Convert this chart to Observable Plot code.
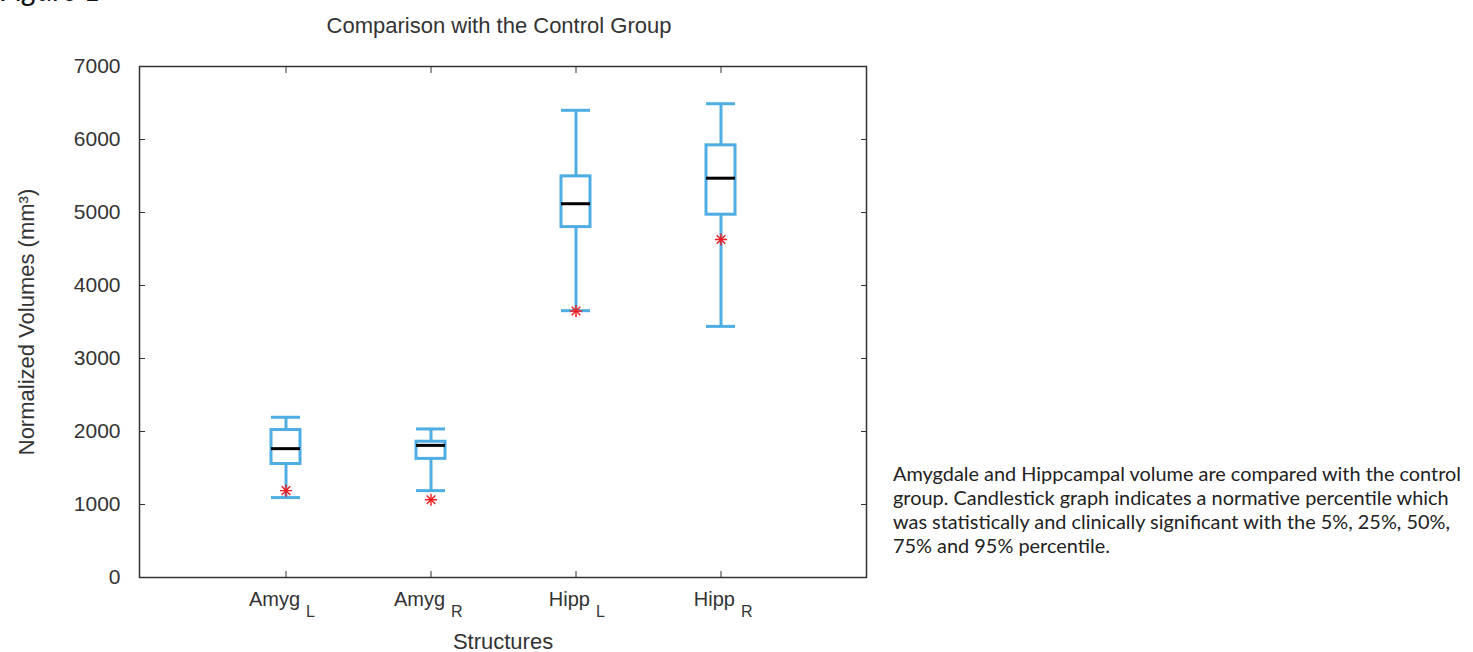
<!DOCTYPE html>
<html>
<head>
<meta charset="utf-8">
<script src="https://cdn.jsdelivr.net/npm/d3@7"></script>
<script src="https://cdn.jsdelivr.net/npm/@observablehq/plot@0.6"></script>
<style>
  html, body { margin: 0; padding: 0; background: #fff; }
  #page { position: relative; width: 1473px; height: 652px; overflow: hidden; background: #fff; }
  #chart { position: absolute; left: 0; top: 0; z-index: 1; }
  #figlabel { position: absolute; left: 0px; top: -26px; z-index: 2; font: italic 30px Lato, "Open Sans", sans-serif; line-height: 30px; color: #111; white-space: nowrap; }
  #caption { position: absolute; left: 893px; top: 461px; z-index: 2; font: 19.9px Lato, "Open Sans", sans-serif; line-height: 24px; color: #222; white-space: nowrap; }
</style>
</head>
<body>
<div id="page">
  <div id="chart"></div>
  <div id="figlabel">Figure 1</div>
  <div id="caption">Amygdale and Hippcampal volume are compared with the control<br>group. Candlestick graph indicates a normative percentile which<br>was statistically and clinically significant with the 5%, 25%, 50%,<br>75% and 95% percentile.</div>
</div>
<script>
// ---- data ----
const structures = ["Amyg", "Amyg", "Hipp", "Hipp"];
const sides = ["L", "R", "L", "R"];
const p5  = [1095, 1190, 3655, 3440];
const p25 = [1555, 1625, 4800, 4970];
const p50 = [1765, 1810, 5120, 5470];
const p75 = [2020, 1860, 5495, 5920];
const p95 = [2195, 2035, 6400, 6490];
const patient = [1190, 1065, 3650, 4630];
const yTicks = [0, 1000, 2000, 3000, 4000, 5000, 6000, 7000];
const titleText = "Comparison with the Control Group";
const xLabel = "Structures";
const yLabel = "Normalized Volumes (mm³)";

const keys = structures.map((s, i) => s + sides[i]);
const rows = keys.map((k, i) => ({
  key: k, name: structures[i], side: sides[i],
  p5: p5[i], p25: p25[i], p50: p50[i], p75: p75[i], p95: p95[i], patient: patient[i]
}));

const blue = "#4eaee3";
const textColor = "#333";
const ff = "'Liberation Sans', Arial, Helvetica, sans-serif";

const chart = Plot.plot({
  width: 880,
  height: 652,
  marginLeft: 139,
  marginRight: 14,
  marginTop: 66,
  marginBottom: 75,
  style: {fontFamily: ff, fontSize: "20px", color: textColor, background: "transparent", overflow: "visible"},
  x: {type: "band", domain: keys, paddingInner: 0.8, paddingOuter: 0.9},
  y: {domain: [0, 7000]},
  marks: [
    // whiskers
    Plot.ruleX(rows, {x: "key", y1: "p5", y2: "p25", stroke: blue, strokeWidth: 3}),
    Plot.ruleX(rows, {x: "key", y1: "p75", y2: "p95", stroke: blue, strokeWidth: 3}),
    Plot.tickY(rows, {x: "key", y: "p5", stroke: blue, strokeWidth: 3}),
    Plot.tickY(rows, {x: "key", y: "p95", stroke: blue, strokeWidth: 3}),
    // boxes
    Plot.barY(rows, {x: "key", y1: "p25", y2: "p75", fill: "white", stroke: blue, strokeWidth: 3}),
    // medians
    Plot.tickY(rows, {x: "key", y: "p50", stroke: "black", strokeWidth: 3}),
    // patient values
    Plot.dot(rows, {x: "key", y: "patient", symbol: "plus", r: 4, stroke: "#f2181c", strokeWidth: 1.4}),
    Plot.dot(rows, {x: "key", y: "patient", symbol: "times", r: 4, stroke: "#f2181c", strokeWidth: 1.4}),
    // frame
    Plot.frame({stroke: "#333", strokeWidth: 1.5}),
    // axes (inward ticks on all sides)
    Plot.axisY({ticks: yTicks, tickFormat: d => String(d), tickSize: 0, tickPadding: 19, fontSize: 21, fontFamily: ff, label: null}),
    Plot.axisY({ticks: yTicks, anchor: "left", tickSize: -6, fill: "none", label: null}),
    Plot.axisY({ticks: yTicks, anchor: "right", tickSize: -6, fill: "none", label: null}),
    Plot.axisX({anchor: "bottom", tickSize: -6, fill: "none", label: null}),
    Plot.axisX({anchor: "top", tickSize: -6, fill: "none", label: null}),
    // x tick labels with subscripts
    Plot.text(rows, {x: "key", text: "name", frameAnchor: "bottom", textAnchor: "end", lineAnchor: "bottom", dx: 14, dy: 28, fontSize: 20, fontFamily: ff, fill: textColor}),
    Plot.text(rows, {x: "key", text: "side", frameAnchor: "bottom", textAnchor: "start", lineAnchor: "bottom", dx: 20, dy: 39, fontSize: 16, fontFamily: ff, fill: textColor}),
    // axis titles and chart title
    Plot.text([xLabel], {frameAnchor: "bottom", textAnchor: "middle", lineAnchor: "bottom", dy: 71, fontSize: 22, fontFamily: ff, fill: textColor}),
    Plot.text([yLabel], {frameAnchor: "left", textAnchor: "middle", rotate: -90, lineAnchor: "bottom", dx: -106, fontSize: 22, fontFamily: ff, fill: textColor}),
    Plot.text([titleText], {frameAnchor: "top", textAnchor: "middle", lineAnchor: "bottom", dy: -34, dx: -4, fontSize: 22, fontFamily: ff, fill: textColor})
  ]
});
document.getElementById("chart").appendChild(chart);
</script>
</body>
</html>
